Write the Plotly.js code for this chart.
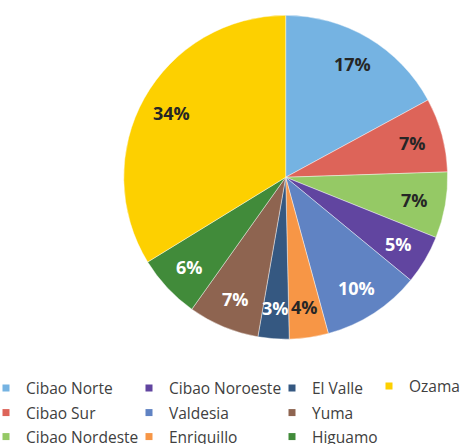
<!DOCTYPE html>
<html>
<head>
<meta charset="utf-8">
<script src="https://cdn.plot.ly/plotly-3.0.1.min.js"></script>
<style>
html,body{margin:0;padding:0;background:#fff;overflow:hidden;width:462px;height:444px;position:relative;}
#chart{position:absolute;left:-14px;top:0;width:520px;height:490px;}
</style>
</head>
<body>
<div id="chart"></div>
<script>
// Data
const regions = ["Cibao Norte","Cibao Sur","Cibao Nordeste","Cibao Noroeste","Valdesia","Enriquillo","El Valle","Yuma","Higuamo","Ozama"];
const shares = [17.1, 7.4, 6.6, 4.9, 9.8, 3.9, 3.1, 7.1, 6.4, 33.8];
const sliceColors = ["#75B3E2","#DD6459","#95C965","#6145A0","#6083C3","#F79646","#355881","#8E6450","#418B3A","#FDD000"];
const labelColors = ["#262626","#262626","#262626","#ffffff","#ffffff","#262626","#ffffff","#ffffff","#ffffff","#262626"];
// Legend layout order (column-major, as in the reference)
const legendColumns = [
  ["Cibao Norte","Cibao Sur","Cibao Nordeste"],
  ["Cibao Noroeste","Valdesia","Enriquillo"],
  ["El Valle","Yuma","Higuamo"],
  ["Ozama"]
];

// Figure is drawn 14px left of the window; the window shows 462x444 of it
const OFF = 14;
const W = 520, H = 490;
const pieLeft = 123 + OFF, pieRight = 447.5 + OFF, pieTop = 15, pieBottom = 339.5;
const colTextX = [25, 169, 312, 409].map(v => v + OFF);
const rowTextY = [388.5, 413, 437];

const traces = [{
  type: "pie",
  labels: regions,
  values: shares,
  sort: false,
  direction: "clockwise",
  rotation: 0,
  marker: {colors: sliceColors, line: {color: "rgba(255,255,255,0.7)", width: 0.6}},
  textinfo: "none",
  hoverinfo: "label+percent",
  showlegend: false,
  domain: {x: [pieLeft/W, pieRight/W], y: [1 - pieBottom/H, 1 - pieTop/H]}
}];

// Percentage labels placed at each slice's mid-angle
const total = shares.reduce((a, b) => a + b, 0);
const cxPx = (pieLeft + pieRight) / 2, cyPx = (pieTop + pieBottom) / 2;
const R = (pieRight - pieLeft) / 2;
const labelR = 0.81 * R;
const annotations = [];
let cum = 0;
shares.forEach((v, i) => {
  const mid = (cum + v / 2) / total;
  cum += v;
  const th = mid * 2 * Math.PI;
  const px = cxPx + labelR * Math.sin(th);
  const py = cyPx - labelR * Math.cos(th);
  annotations.push({
    xref: "paper", yref: "paper",
    x: px / W, y: 1 - py / H,
    xanchor: "center", yanchor: "middle",
    showarrow: false,
    text: Math.round(v / total * 100) + "%",
    font: {family: "Open Sans", size: 18, weight: "bold", color: labelColors[i]}
  });
});

const layout = {
  width: W, height: H,
  margin: {l: 0, r: 0, t: 0, b: 0},
  paper_bgcolor: "#ffffff",
  plot_bgcolor: "#ffffff",
  font: {family: "Open Sans", color: "#404040"},
  xaxis: {visible: false},
  yaxis: {visible: false},
  showlegend: true,
  annotations: annotations
};

let k = 0;
legendColumns.forEach((col, ci) => {
  col.forEach((name, ri) => {
    const idx = regions.indexOf(name);
    const lname = k === 0 ? "legend" : "legend" + (k + 1);
    traces.push({
      type: "scatter", mode: "markers",
      x: [null], y: [null],
      name: name,
      legend: lname,
      showlegend: true,
      hoverinfo: "skip",
      marker: {symbol: "square", size: 7, color: sliceColors[idx]}
    });
    const ty = (name === "Ozama") ? rowTextY[ri] - 2 : rowTextY[ri];
    layout[lname] = {
      x: (colTextX[ci] - 40) / W,
      xanchor: "left",
      y: 1 - ty / H,
      yanchor: "middle",
      orientation: "v",
      bgcolor: "rgba(0,0,0,0)",
      borderwidth: 0,
      font: {family: "Open Sans", size: 15.5, color: "#404040"}
    };
    k++;
  });
});

Plotly.newPlot("chart", traces, layout, {displayModeBar: false, staticPlot: true});
</script>
</body>
</html>
